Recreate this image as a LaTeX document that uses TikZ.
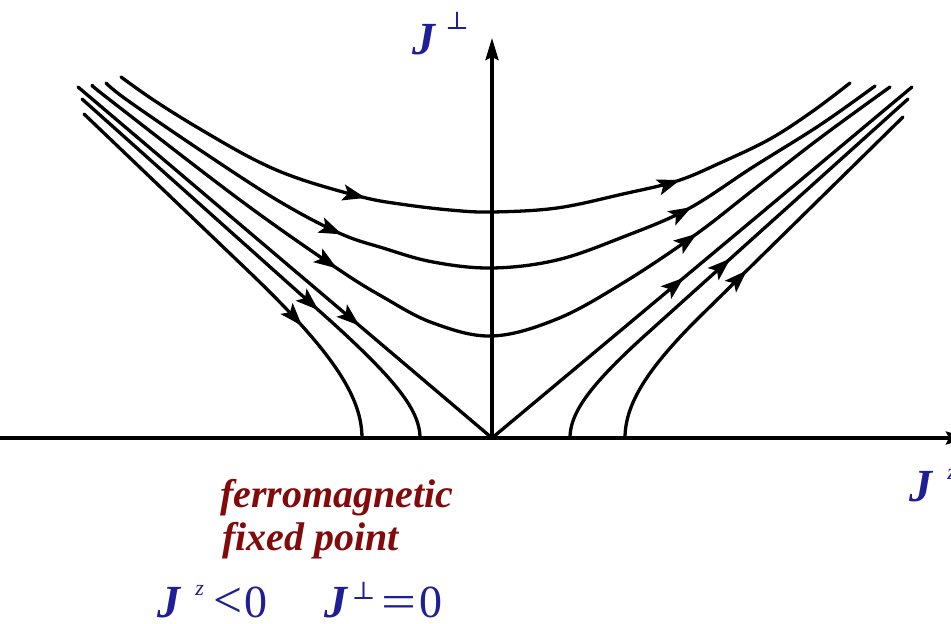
\documentclass[tikz,border=0pt]{standalone}
\usepackage{fontspec}
\setmainfont{Liberation Serif}
\newfontfamily\symfont{DejaVu Serif}
\usetikzlibrary{arrows.meta,decorations.markings}
\definecolor{labelblue}{RGB}{30,30,150}
\definecolor{labelred}{RGB}{130,10,10}
\newcommand{\perpsym}[1]{{\fontsize{#1}{#1}\symfont ⊥}}
\newcommand{\zsup}{{\fontsize{22}{22}\selectfont\itshape z}}
\tikzset{
  flow/.style={line width=3.3pt, line join=round, line cap=round},
  axisline/.style={line width=3.3pt, -{Stealth[length=22pt,width=13pt,inset=3pt]}},
  arr/.style={postaction={decorate, decoration={markings,
      mark=at position #1 with {\arrow{Stealth[length=23pt,width=16pt,inset=5pt]}}}}},
  lbl/.style={inner sep=0pt, text=labelblue, font=\fontsize{46}{50}\selectfont, anchor=base west},
  redlbl/.style={inner sep=0pt, text=labelred, font=\fontsize{40}{44}\selectfont\bfseries\itshape, anchor=base west},
}
\begin{document}
\begin{tikzpicture}[x=1pt, y=-1pt]
\useasboundingbox (0,0) rectangle (951,624);
% axes
\coordinate (O) at (492,438);
\coordinate (xl) at (0,438);
\coordinate (xr) at (968,438);
\coordinate (yt) at (492,38);
\draw[axisline] (xl) -- (xr);
\draw[axisline] (O) -- (yt);
% upper flow lines
\draw[flow, arr=275pt, arr=594pt] plot[smooth, tension=0.6] coordinates {(121,77) (155,101) (200,129) (255,160) (300,179) (362,197) (400,204) (450,210) (492,212) (557,208) (623,194) (677,181) (720,163) (770,139) (813,111) (850,83)};
\draw[flow, arr=281pt, arr=646pt] plot[smooth, tension=0.6] coordinates {(106,83) (127,100) (200,150) (277,200) (339,233) (383,248) (433,262) (492,268) (557,260) (623,237) (688,209) (753,167) (820,125) (875,86)};
\draw[flow, arr=306pt, arr=709pt] plot[smooth, tension=0.6] coordinates {(93,86) (110,100) (240,200) (335,267) (383,297) (433,323) (492,336) (557,319) (623,283) (695,235) (753,190) (820,138) (890,87)};
% separatrices
\coordinate (sepL) at (78,87);
\coordinate (sepR) at (912,87);
\draw[flow, arr=369pt] (sepL) -- (O);
\draw[flow, arr=250pt] (O) -- (sepR);
% lower flow lines
\coordinate (L1) at (82,99);
\coordinate (L2) at (84,114);
\coordinate (R1) at (908,99);
\coordinate (R2) at (903,117);
\draw[flow, arr=317pt] (L1) -- plot[domain=0:1.4507, samples=30, variable=\t] ({492-72*cosh(1.4507-\t)}, {438-58.32*sinh(1.4507-\t)});
\draw[flow, arr=304pt] (L2) -- plot[domain=0:1.2330, samples=30, variable=\t] ({492-130*cosh(1.2330-\t)}, {438-105.3*sinh(1.2330-\t)});
\draw[flow, arr=245pt] plot[domain=0:1.2713, samples=30, variable=\t] ({492+78*cosh(\t)}, {438-60.84*sinh(\t)}) -- (R1);
\draw[flow, arr=212pt] plot[domain=0:0.9986, samples=30, variable=\t] ({492+133*cosh(\t)}, {438-101.08*sinh(\t)}) -- (R2);
% labels
\node[lbl] (jperp) at (412,54) {\textbf{\textit{J}}\hspace{9pt}\raisebox{24.6pt}{\perpsym{25}}};
\node[lbl] (jz) at (909,501) {\textbf{\textit{J}}\hspace{14pt}\raisebox{22pt}{\zsup}};
\node[redlbl] (ferro) at (220,507) {ferromagnetic};
\node[redlbl] (fixed) at (222,550) {fixed point};
\node[lbl] (cond1) at (157,617) {\textbf{\textit{J}}\hspace{14pt}\raisebox{22pt}{\zsup}\hspace{9.5pt}\scalebox{1.12}{<}\hspace{2pt}0};
\node[lbl] (cond2) at (324,617) {\textbf{\textit{J}}\hspace{3.5pt}\raisebox{18pt}{\perpsym{25}}\hspace{6pt}\scalebox{1.35}[1]{=}\hspace{3pt}0};
\end{tikzpicture}
\end{document}
